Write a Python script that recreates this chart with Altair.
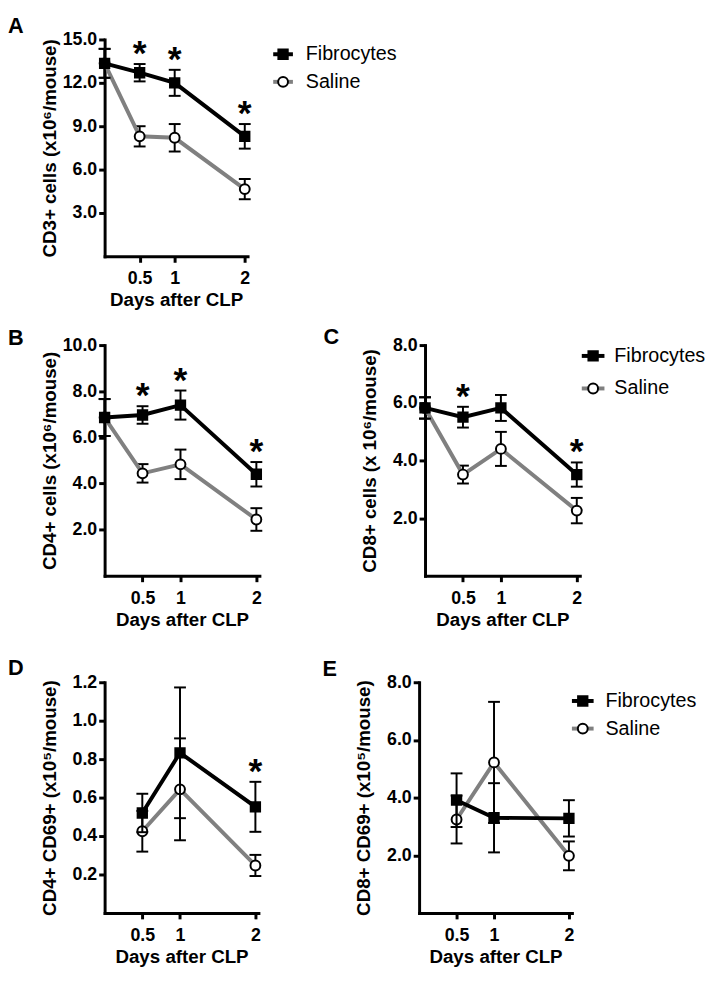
import altair as alt
import pandas as pd

FONT = "Liberation Sans"
SERIES = ["Fibrocytes", "Saline"]
DAYS_0 = [0, 0.5, 1, 2]
DAYS = [0.5, 1, 2]
X_TICKS = [0.5, 1, 2]
X_TITLE = "Days after CLP"

# Panel A: CD3+ cells
A_FIB = [13.35, 12.7, 12.0, 8.3]
A_FIB_SEM = [1.0, 0.6, 0.9, 0.85]
A_SAL = [13.35, 8.3, 8.2, 4.65]
A_SAL_SEM = [1.0, 0.7, 0.95, 0.7]
A_STARS = [0.5, 1, 2]
A_YTICKS = [3, 6, 9, 12, 15]

# Panel B: CD4+ cells
B_FIB = [6.86, 6.97, 7.4, 4.4]
B_FIB_SEM = [0.8, 0.38, 0.63, 0.53]
B_SAL = [6.86, 4.44, 4.83, 2.44]
B_SAL_SEM = [0.8, 0.4, 0.64, 0.49]
B_STARS = [0.5, 1, 2]
B_YTICKS = [2, 4, 6, 8, 10]

# Panel C: CD8+ cells
C_FIB = [5.82, 5.5, 5.82, 3.51]
C_FIB_SEM = [0.37, 0.36, 0.45, 0.42]
C_SAL = [5.82, 3.51, 4.4, 2.26]
C_SAL_SEM = [0.37, 0.31, 0.59, 0.44]
C_STARS = [0.5, 2]
C_YTICKS = [2, 4, 6, 8]

# Panel D: CD4+ CD69+
D_FIB = [0.52, 0.833, 0.552]
D_FIB_SEM = [0.10, 0.34, 0.13]
D_SAL = [0.425, 0.643, 0.247]
D_SAL_SEM = [0.106, 0.265, 0.055]
D_STARS = [2]
D_YTICKS = [0.2, 0.4, 0.6, 0.8, 1.0, 1.2]

# Panel E: CD8+ CD69+
E_FIB = [3.91, 3.30, 3.28]
E_FIB_SEM = [0.93, 1.2, 0.63]
E_SAL = [3.24, 5.22, 1.98]
E_SAL_SEM = [0.83, 2.1, 0.5]
E_STARS = []
E_YTICKS = [2, 4, 6, 8]

STYLE = {
    "Fibrocytes": dict(color="#000000", fill="#000000", shape="square", size=90),
    "Saline": dict(color="#808080", fill="#ffffff", shape="circle", size=100),
}


def make_df(days, fib, fib_sem, sal, sal_sem):
    rows = []
    for s, m, e in [("Fibrocytes", fib, fib_sem), ("Saline", sal, sal_sem)]:
        for d, v, se in zip(days, m, e):
            rows.append(dict(series=s, day=d, mean=v, lower=v - se, upper=v + se))
    return pd.DataFrame(rows)


def star_df(days, fib, fib_sem, stars):
    rows = []
    for d, v, se in zip(days, fib, fib_sem):
        if d in stars:
            rows.append(dict(day=d, y=v + se))
    return pd.DataFrame(rows, columns=["day", "y"])


def panel(letter, df, sdf, ymax, yticks, ytitle, w, h, letter_xy, legend=None):
    xs = alt.Scale(domain=[0, 2.04], nice=False, zero=False)
    ys = alt.Scale(domain=[0, ymax], nice=False, zero=False)
    xax = alt.Axis(values=X_TICKS, format="~g", title=X_TITLE, labelPadding=8,
                   titlePadding=3, labelFlush=False)
    yax = alt.Axis(values=yticks, format=".1f", title=ytitle, labelPadding=2,
                   titleX=-50, titleBaseline="alphabetic")
    X = alt.X("day:Q", scale=xs, axis=xax)
    layers = []
    for s in ["Saline", "Fibrocytes"]:
        st = STYLE[s]
        b = alt.Chart(df).transform_filter(alt.datum.series == s)
        layers.append(
            b.mark_rule(color="black", strokeWidth=2, opacity=1).encode(
                x=X, y=alt.Y("lower:Q", scale=ys, axis=yax), y2="upper:Q"))
        for f in ["lower", "upper"]:
            layers.append(
                b.mark_tick(orient="horizontal", size=12, thickness=2, color="black",
                            opacity=1).encode(
                    x=X, y=alt.Y(f + ":Q", scale=ys, axis=yax)))
        layers.append(
            b.mark_line(color=st["color"], strokeWidth=4).encode(
                x=X, y=alt.Y("mean:Q", scale=ys, axis=yax)))
        layers.append(
            b.mark_point(shape=st["shape"], size=st["size"], filled=True, fill=st["fill"],
                         stroke="black", strokeWidth=2, opacity=1).encode(
                x=X, y=alt.Y("mean:Q", scale=ys, axis=yax)))
    if len(sdf):
        layers.append(
            alt.Chart(sdf).mark_text(text="*", font=FONT, fontSize=36, fontWeight="bold",
                                     baseline="alphabetic", dy=1, color="black").encode(
                x=X, y=alt.Y("y:Q", scale=ys, axis=yax)))
    layers.append(
        alt.Chart(pd.DataFrame({"t": [letter]})).mark_text(
            align="left", baseline="top", font=FONT, fontSize=22, fontWeight="bold",
            color="black").encode(x=alt.value(letter_xy[0]), y=alt.value(letter_xy[1]),
                                  text="t:N"))
    if legend is not None:
        x0, x1, xt, y0, dy = legend
        for i, s in enumerate(SERIES):
            st = STYLE[s]
            yy = y0 + i * dy
            one = alt.Chart(pd.DataFrame({"series": [s]}))
            layers.append(one.mark_rule(color=st["color"], strokeWidth=4).encode(
                x=alt.value(x0), x2=alt.value(x1), y=alt.value(yy)))
            layers.append(one.mark_point(shape=st["shape"], size=st["size"], filled=True,
                                         fill=st["fill"], stroke="black", strokeWidth=2,
                                         opacity=1).encode(
                x=alt.value((x0 + x1) / 2), y=alt.value(yy)))
            layers.append(one.mark_text(align="left", baseline="middle", font=FONT,
                                        fontSize=20, color="black").encode(
                x=alt.value(xt), y=alt.value(yy), text="series:N"))
    return alt.layer(*layers).properties(width=w, height=h)


A = panel("A", make_df(DAYS_0, A_FIB, A_FIB_SEM, A_SAL, A_SAL_SEM),
          star_df(DAYS_0, A_FIB, A_FIB_SEM, A_STARS), 15, A_YTICKS,
          "CD3+ cells (x10⁶/mouse)", 145, 220, (-98, -24), legend=(171, 191, 204, 15, 28))
B = panel("B", make_df(DAYS_0, B_FIB, B_FIB_SEM, B_SAL, B_SAL_SEM),
          star_df(DAYS_0, B_FIB, B_FIB_SEM, B_STARS), 10, B_YTICKS,
          "CD4+ cells (x10⁶/mouse)", 157, 234, (-98, -17))
C = panel("C", make_df(DAYS_0, C_FIB, C_FIB_SEM, C_SAL, C_SAL_SEM),
          star_df(DAYS_0, C_FIB, C_FIB_SEM, C_STARS), 8, C_YTICKS,
          "CD8+ cells (x 10⁶/mouse)", 157, 234, (-103, -18), legend=(159, 182, 192, 11, 33))
D = panel("D", make_df(DAYS, D_FIB, D_FIB_SEM, D_SAL, D_SAL_SEM),
          star_df(DAYS, D_FIB, D_FIB_SEM, D_STARS), 1.2, D_YTICKS,
          "CD4+ CD69+ (x10⁵/mouse)", 156, 234, (-98, -24))
E = panel("E", make_df(DAYS, E_FIB, E_FIB_SEM, E_SAL, E_SAL_SEM),
          star_df(DAYS, E_FIB, E_FIB_SEM, E_STARS), 8, E_YTICKS,
          "CD8+ CD69+ (x10⁵/mouse)", 155, 234, (-98, -23), legend=(155, 177, 189, 19, 28))

SH = 59
top = alt.vconcat(alt.hconcat(A), alt.hconcat(B, C, spacing=SH), spacing=17)
chart = alt.vconcat(
    top,
    alt.hconcat(D, E, spacing=SH),
    spacing=29,
).properties(padding=0, background="white").configure_view(stroke=None).configure_axis(
    domainColor="black", domainWidth=3, domainCap="square", tickColor="black", tickWidth=3,
    tickSize=6, grid=False, labelFont=FONT, labelFontSize=18, labelFontWeight="bold",
    labelColor="black", titleFont=FONT, titleFontSize=19, titleFontWeight="bold",
    titleColor="black",
)

chart.save("out.html", embed_options={"renderer": "svg", "actions": False})
